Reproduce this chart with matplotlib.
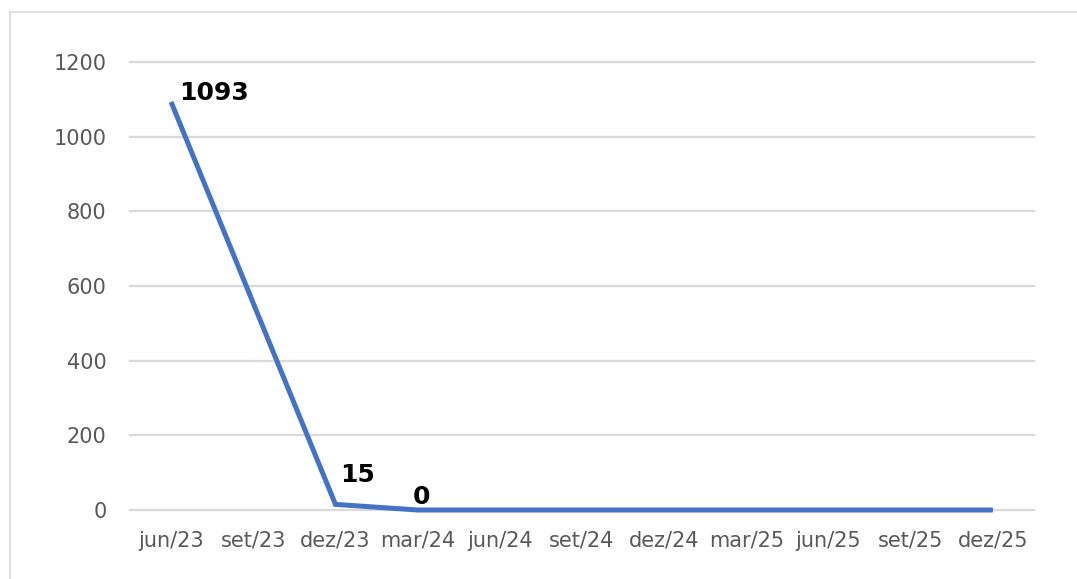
import matplotlib.pyplot as plt
import matplotlib.patches as patches
import numpy as np

months = ['jun/23', 'set/23', 'dez/23', 'mar/24', 'jun/24', 'set/24',
          'dez/24', 'mar/25', 'jun/25', 'set/25', 'dez/25']
# set/23 has no value; the line just joins its neighbours
values = [1093, None, 15, 0, 0, 0, 0, 0, 0, 0, 0]
yticks = [0, 200, 400, 600, 800, 1000, 1200]

# labelled points: index -> (ha, dx px, dy px)
labels = {0: ('left', 8, -3), 2: ('left', 5, 17), 3: ('center', 4, 1)}

fig = plt.figure(figsize=(10.77, 5.79), dpi=100)
ax = fig.add_axes([130/1077, 1 - 510/579, (1034 - 130)/1077, (510 - 62)/579])

# outer chart border (only left and top edges are in view)
border = patches.Rectangle((10/1077, -0.2), 1.2, 1.2 - 12/579,
                           transform=fig.transFigure, fill=False,
                           edgecolor='#e0e0e0', linewidth=1.5)
fig.patches.append(border)

x = [i for i, v in enumerate(values) if v is not None]
y = [v for v in values if v is not None]
ax.plot(x, y, color='#4472C4', linewidth=3.6, solid_capstyle='butt',
        solid_joinstyle='miter', zorder=3, clip_on=False)

for i, (ha, dx, dy) in labels.items():
    ax.annotate(str(values[i]), (i, values[i]),
                xytext=(dx * 0.72, dy * 0.72), textcoords='offset points',
                ha=ha, va='bottom', fontsize=18, fontweight='bold',
                color='black', zorder=4)

ax.set_xlim(-0.5, len(months) - 0.5)
ax.set_ylim(0, 1200)
ax.set_xticks(np.arange(len(months)))
ax.set_xticklabels(months)
ax.set_yticks(yticks)
ax.tick_params(length=0, labelsize=15, labelcolor='#595959')
ax.tick_params(axis='y', pad=17)
ax.tick_params(axis='x', pad=15)

ax.grid(axis='y', color='#d9d9d9', linewidth=1.6)
for g in ax.get_ygridlines():
    g.set_clip_on(False)
ax.set_axisbelow(True)
for s in ax.spines.values():
    s.set_visible(False)

fig.savefig('out.png', dpi=100)
